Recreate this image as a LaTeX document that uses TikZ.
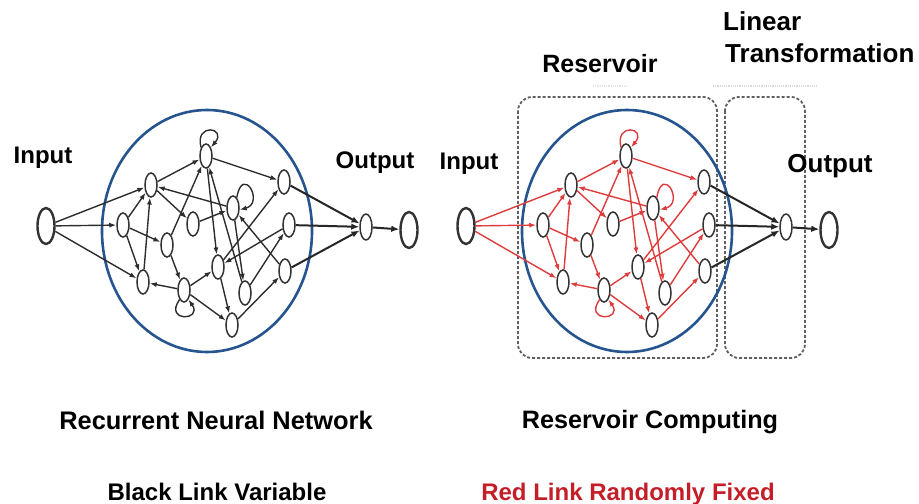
\documentclass[tikz,border=0pt]{standalone}
\usepackage{fontspec}
\setmainfont{Liberation Sans}
\usetikzlibrary{arrows.meta,shapes.geometric}
\definecolor{ringblue}{RGB}{38,84,142}
\definecolor{linkgray}{RGB}{45,45,45}
\definecolor{linkred}{RGB}{222,60,60}
\definecolor{textred}{RGB}{196,30,40}
\definecolor{boxgray}{RGB}{95,95,95}

\begin{document}
\begin{tikzpicture}[x=1bp,y=1bp,>=Latex,
  neuron/.style={ellipse,draw=black!80,line width=1.5bp,fill=white,inner sep=0pt,minimum width=12bp,minimum height=24bp},
  port/.style={neuron,line width=2.4bp,minimum width=17bp,minimum height=36bp},
  link/.style={-{Latex[length=7bp,width=5bp]},line width=1.4bp},
  outlink/.style={-{Latex[length=8bp,width=6.5bp]},line width=2bp,draw=black!85,color=black!85},
  ring/.style={draw=ringblue,line width=2.6bp},
  stage/.style={draw=boxgray,line width=1.8bp,dash pattern=on 3bp off 2bp,rounded corners=14bp},
  lbl/.style={font=\bfseries\fontsize{24bp}{28bp}\selectfont,inner sep=0pt,anchor=base},
]
\useasboundingbox (0,0) rectangle (919,-504);

% the two dashed stages of reservoir computing
\draw[stage] (518,-97) rectangle (717,-358);
\draw[stage] (725,-97) rectangle (805,-358);
\draw[gray!30,line width=1.2bp,densely dotted] (713,-86) -- (817,-86);
\draw[gray!20,line width=1.2bp,densely dotted] (593,-86) -- (627,-86);

% same network twice: black links (RNN) and red links (reservoir)
\foreach \p/\dx/\ec in {rnn/0/linkgray,rc/420/linkred}{
\begin{scope}[xshift=\dx bp]
\draw[ring] (207,-231) ellipse [x radius=105bp,y radius=121bp];
\node[port] (\p in) at (46,-226) {};
\node[neuron] (\p A) at (123,-225) {};
\node[neuron] (\p B) at (151,-185) {};
\node[neuron] (\p C) at (143,-282) {};
\node[neuron] (\p D) at (167,-245) {};
\node[neuron] (\p E) at (206,-156) {};
\node[neuron] (\p F) at (193,-224) {};
\node[neuron] (\p G) at (184,-290) {};
\node[neuron] (\p H) at (218,-267) {};
\node[neuron] (\p I) at (233,-208) {};
\node[neuron] (\p J) at (232,-325) {};
\node[neuron] (\p K) at (245,-293) {};
\node[neuron] (\p L) at (284,-182) {};
\node[neuron] (\p M) at (289,-225) {};
\node[neuron] (\p N) at (285,-271) {};
\node[neuron,minimum height=26bp] (\p o) at (366,-227) {};
\node[port] (\p out) at (409,-230) {};
\foreach \t in {A,B,C}
  \draw[link,color=\ec] (\p in) -- (\p\t);
\foreach \s/\t in {A/B,A/C,A/D,C/B,B/E,B/F,I/B,D/E,D/G,G/C,G/H,G/J,E/L,E/H,K/E,F/I,N/I,I/K,M/H,H/L,K/M,J/N,H/J}
  \draw[link,color=\ec] (\p\s) -- (\p\t);
% self loops
\draw[link,color=\ec] (\p E.120) .. controls +(105:26) and +(50:26) .. (\p E.60);
\draw[link,color=\ec] (\p G.245) .. controls +(235:28) and +(305:26) .. (\p G.295);
\draw[link,color=\ec] (\p I.70) .. controls +(80:34) and +(15:26) .. (\p I.-15);
\foreach \s in {L,M,N}
  \draw[outlink] (\p\s) -- (\p o);
\draw[outlink] (\p o) -- (\p out);
\end{scope}
}

% labels
\node[lbl] (inLeft) at (43,-164) {Input};
\node[lbl] (outLeft) at (375,-169) {Output};
\node[lbl] (inRight) at (469,-170) {Input};
\node[lbl,font=\bfseries\fontsize{26bp}{30bp}\selectfont] (outRight) at (830,-173) {Output};
\node[lbl,font=\bfseries\fontsize{25bp}{30bp}\selectfont] (resLabel) at (600,-73) {Reservoir};
\node[lbl,anchor=base west,font=\bfseries\fontsize{26bp}{30bp}\selectfont] (linLabel) at (723,-31) {Linear};
\node[lbl,anchor=base west,font=\bfseries\fontsize{26bp}{30bp}\selectfont] (trLabel) at (725,-63) {Transformation};
\node[lbl,font=\bfseries\fontsize{25.4bp}{30bp}\selectfont] (rnnTitle) at (216,-429) {Recurrent Neural Network};
\node[lbl,font=\bfseries\fontsize{25.2bp}{30bp}\selectfont] (rcTitle) at (650,-428) {Reservoir Computing};
\node[lbl] (rnnNote) at (217,-500) {Black Link Variable};
\node[lbl,text=textred] (rcNote) at (628,-500) {Red Link Randomly Fixed};
\end{tikzpicture}
\end{document}
